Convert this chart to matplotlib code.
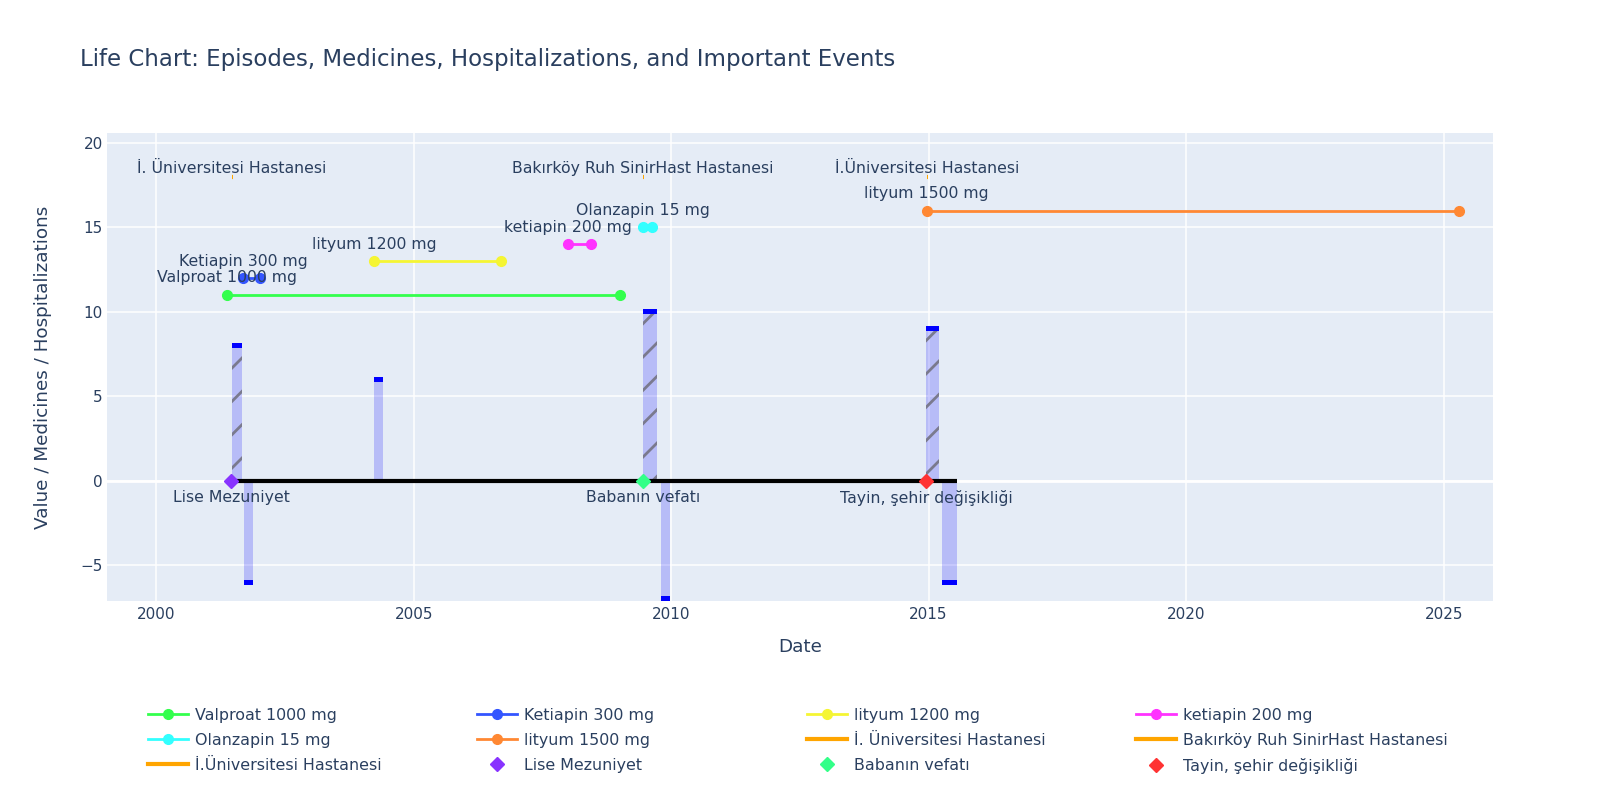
import numpy as np
import pandas as pd
import matplotlib
matplotlib.use('Agg')
import matplotlib.pyplot as plt
import matplotlib.dates as mdates
from matplotlib.lines import Line2D

plt.rcParams.update({'font.family': 'DejaVu Sans',
                     'hatch.linewidth': 2.0,
                     'axes.unicode_minus': True})

TXT = '#2a3f5f'
BG = '#e5ecf6'

# medicines: name, start, end, level on the chart
med_names = ['Valproat 1000 mg', 'Ketiapin 300 mg', 'lityum 1200 mg',
             'ketiapin 200 mg', 'Olanzapin 15 mg', 'lityum 1500 mg']
med_start = ['2001-05-18', '2001-09-12', '2004-03-25', '2008-01-03', '2009-06-13', '2014-12-18']
med_end = ['2009-01-06', '2002-01-07', '2006-09-13', '2008-06-14', '2009-08-20', '2025-04-20']
med_level = [11, 12, 13, 14, 15, 16]
med_colors = ['#33ff4d', '#3355ff', '#f5f533', '#ff33ff', '#33ffff', '#ff8833']

# hospitalizations
hosp_names = ['İ. Üniversitesi Hastanesi', 'Bakırköy Ruh SinirHast Hastanesi', 'İ.Üniversitesi Hastanesi']
hosp_start = ['2001-06-22', '2009-06-16', '2014-12-22']
hosp_end = ['2001-06-27', '2009-06-21', '2014-12-27']
hosp_level = 18

# important events
event_names = ['Lise Mezuniyet', 'Babanın vefatı', 'Tayin, şehir değişikliği']
event_dates = ['2001-06-18', '2009-06-13', '2014-12-16']
event_colors = ['#8833ff', '#33ff88', '#ff3333']

# episodes (positive = mania, negative = depression)
ep_start = ['2001-06-20', '2001-09-15', '2004-03-25', '2009-06-13', '2009-10-22', '2014-12-16', '2015-04-08']
ep_end = ['2001-09-01', '2001-11-15', '2004-05-25', '2009-09-24', '2009-12-24', '2015-03-14', '2015-07-20']
ep_value = [8, -6, 6, 10, -7, 9, -6]
ep_hatch = [True, False, False, True, False, True, False]


def dn(lst):
    return mdates.date2num(pd.to_datetime(lst).to_pydatetime())


fig = plt.figure(figsize=(16, 8), dpi=100)
ax = fig.add_axes([107/1600, 1-601/800, 1386/1600, 468/800])
ax.set_facecolor(BG)
for s in ax.spines.values():
    s.set_visible(False)

# episodes
e0, e1 = dn(ep_start), dn(ep_end)
ec = (e0 + e1) / 2
ew = e1 - e0
ax.bar(ec, ep_value, width=ew, color='blue', alpha=0.2, linewidth=0, zorder=2)
hm = np.array(ep_hatch)
ax.bar(ec[hm], np.array(ep_value)[hm], width=ew[hm], facecolor='none', edgecolor='#7a7a8e',
       linewidth=0, hatch='/', zorder=2.1)
ax.bar(ec, 0.3, width=ew, bottom=np.array(ep_value) - 0.15, color='blue', linewidth=0, zorder=2.2)

# timeline
ev = dn(event_dates)
ax.plot([ev.min(), e1.max()], [0, 0], color='black', lw=3, zorder=3, solid_capstyle='butt')

handles = []
# medicines
m0, m1 = dn(med_start), dn(med_end)
for i, name in enumerate(med_names):
    ax.plot([m0[i], m1[i]], [med_level[i]] * 2, '-o', color=med_colors[i], lw=2, ms=7, zorder=4)
    ax.annotate(name, (m0[i], med_level[i]), xytext=(0, 17), textcoords='offset pixels',
                ha='center', va='center', fontsize=11.3, color=TXT, zorder=5)
    handles.append(Line2D([], [], color=med_colors[i], lw=2, marker='o', ms=7, label=name))

# hospitalizations
h0, h1 = dn(hosp_start), dn(hosp_end)
for i, name in enumerate(hosp_names):
    ax.plot([h0[i], h1[i]], [hosp_level] * 2, color='orange', lw=3, zorder=4, solid_capstyle='butt')
    ax.annotate(name, (h0[i], hosp_level), xytext=(0, 8), textcoords='offset pixels',
                ha='center', va='center', fontsize=11.3, color=TXT, zorder=5)
    handles.append(Line2D([], [], color='orange', lw=3, label=name))

# events
for i, name in enumerate(event_names):
    ax.plot(ev[i], 0, 'D', color=event_colors[i], ms=7.2, zorder=4.5)
    ax.annotate(name, (ev[i], 0), xytext=(0, -17), textcoords='offset pixels',
                ha='center', va='center', fontsize=11.3, color=TXT, zorder=5)
    handles.append(Line2D([], [], color=event_colors[i], lw=0, marker='D', ms=7.2, label=name))

ax.set_xlim(mdates.datestr2num('1999-01-18'), mdates.datestr2num('2025-12-17'))
ax.set_ylim(-7.12, 20.59)
ax.xaxis.set_major_locator(mdates.YearLocator(5))
ax.xaxis.set_major_formatter(mdates.DateFormatter('%Y'))
ax.set_yticks([-5, 0, 5, 10, 15, 20])
ax.grid(color='white', lw=1.1, zorder=0)
ax.set_axisbelow(True)
ax.axhline(0, color='white', lw=2, zorder=1)
ax.tick_params(length=0, labelsize=11, labelcolor=TXT)
ax.tick_params(axis='x', pad=4.5)
ax.tick_params(axis='y', pad=3)

ax.set_xlabel('Date', fontsize=13.2, color=TXT)
ax.xaxis.set_label_coords(0.5, (601-647)/468)
ax.xaxis.label.set_va('center')
ax.set_ylabel('Value / Medicines / Hospitalizations', fontsize=13.2, color=TXT)
ax.yaxis.set_label_coords((43-107)/1386, 0.5)
ax.yaxis.label.set_va('center')

fig.text(80/1600, 1-59.3/800, 'Life Chart: Episodes, Medicines, Hospitalizations, and Important Events',
         fontsize=16.5, color=TXT, va='center', ha='left')

# legend: 4 columns, filled row by row
col_x = [148, 477, 807, 1136]
for c in range(4):
    hs = handles[c::4]
    lg = fig.legend(handles=hs, loc='upper left', bbox_to_anchor=(col_x[c]/1600, 1-708/800),
                    frameon=False, fontsize=11.4, borderpad=0, borderaxespad=0,
                    handlelength=2.53, handletextpad=0.44, labelspacing=0.63, labelcolor=TXT)

plt.savefig('out.png', dpi=100, facecolor='white')
